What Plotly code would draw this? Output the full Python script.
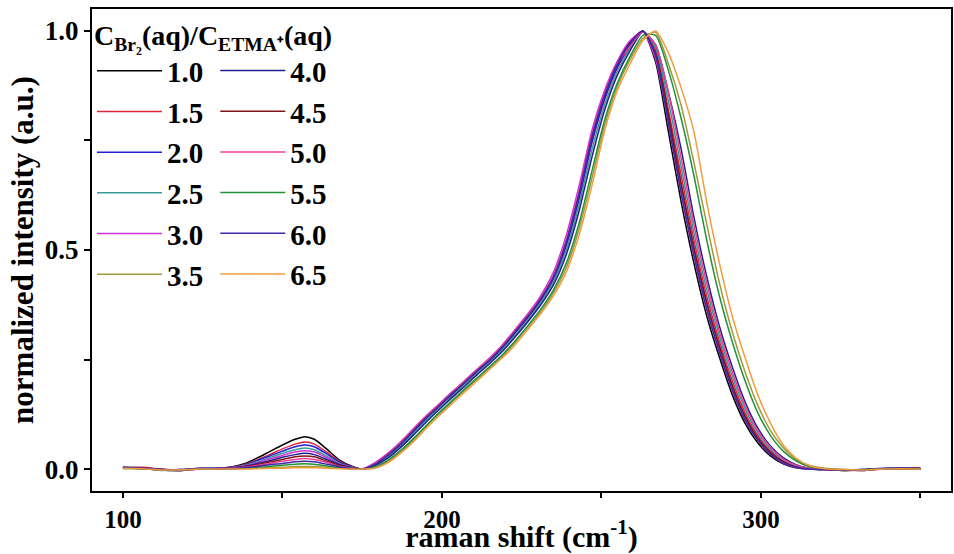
import plotly.graph_objects as go

# shared Raman-shift grid (cm^-1)
x_low = [100, 106, 112, 118, 124, 130, 134, 138, 142, 146, 150, 154, 157, 160, 164, 168, 172, 175]
x_main = [179, 183, 187, 191, 195, 199, 203, 207, 211, 215, 219, 223, 227, 231, 235, 239, 243, 247,
          251, 255, 259, 263, 267, 271, 275, 279, 283, 287, 291, 295, 299, 303, 307, 311, 315]
x_tail = [320, 326, 332, 338, 344, 350]
raman_shift = x_low + x_main + x_tail

labels = ["1.0", "1.5", "2.0", "2.5", "3.0", "3.5", "4.0", "4.5", "5.0", "5.5", "6.0", "6.5"]
colors = ["#000000", "#e3233a", "#2020d8", "#3a9a9a", "#d430d4", "#9b9b3c",
          "#202090", "#801515", "#e8409a", "#22903a", "#3b2ba5", "#f39c3c"]

i_10 = [0.004, 0.003, -0.002, -0.003, 0.001,
        0.002, 0.005, 0.012, 0.025, 0.040, 0.055, 0.068, 0.074, 0.068, 0.045, 0.020, 0.006, 0.000,
        0.012, 0.033, 0.058, 0.088, 0.118, 0.145, 0.172, 0.198, 0.225, 0.25, 0.28, 0.315, 0.35, 0.39, 0.44, 0.52, 0.63, 0.76,
        0.855, 0.925, 0.975, 0.999, 0.929, 0.77, 0.61, 0.47, 0.35, 0.255, 0.17, 0.105, 0.06, 0.03, 0.012, 0.003, 0.0,
        -0.001, -0.003, -0.002, 0.001, 0.002, 0.001]
i_15 = [0.002, 0.004, 0.000, -0.002, 0.000,
        0.002, 0.004, 0.010, 0.021, 0.033, 0.046, 0.057, 0.062, 0.057, 0.038, 0.017, 0.005, 0.0,
        0.010, 0.030, 0.055, 0.084, 0.114, 0.142, 0.169, 0.195, 0.222, 0.247, 0.276, 0.311, 0.346, 0.385, 0.434, 0.51, 0.616, 0.744,
        0.843, 0.916, 0.965, 1.0, 0.957, 0.82, 0.67, 0.523, 0.395, 0.291, 0.202, 0.129, 0.077, 0.041, 0.019, 0.006, 0.001,
        0.0, -0.002, -0.003, 0.000, 0.001, 0.002]
i_20 = [0.003, 0.001, -0.001, -0.002, 0.002,
        0.002, 0.004, 0.009, 0.019, 0.030, 0.041, 0.051, 0.055, 0.051, 0.034, 0.015, 0.004, 0.0,
        0.011, 0.031, 0.056, 0.085, 0.115, 0.143, 0.170, 0.196, 0.223, 0.248, 0.277, 0.312, 0.347, 0.386, 0.435, 0.512, 0.618, 0.746,
        0.845, 0.917, 0.968, 1.0, 0.944, 0.80, 0.65, 0.505, 0.38, 0.279, 0.191, 0.121, 0.071, 0.038, 0.017, 0.005, 0.001,
        -0.001, -0.002, -0.001, 0.002, 0.000, 0.001]
i_25 = [0.002, 0.002, -0.003, -0.001, 0.001,
        0.001, 0.003, 0.008, 0.016, 0.026, 0.036, 0.044, 0.048, 0.044, 0.029, 0.013, 0.004, 0.0,
        0.009, 0.028, 0.052, 0.081, 0.111, 0.138, 0.165, 0.192, 0.218, 0.244, 0.273, 0.306, 0.341, 0.38, 0.428, 0.50, 0.603, 0.728,
        0.831, 0.908, 0.96, 1.0, 0.96, 0.84, 0.69, 0.54, 0.41, 0.303, 0.213, 0.138, 0.083, 0.045, 0.021, 0.008, 0.002,
        0.0, -0.001, -0.002, 0.001, 0.001, 0.000]
i_30 = [0.003, 0.003, -0.001, -0.003, 0.000,
        0.001, 0.003, 0.007, 0.014, 0.023, 0.031, 0.039, 0.042, 0.039, 0.026, 0.011, 0.003, 0.0,
        0.015, 0.036, 0.062, 0.092, 0.121, 0.148, 0.175, 0.201, 0.228, 0.254, 0.284, 0.319, 0.355, 0.396, 0.45, 0.534, 0.646, 0.772,
        0.864, 0.931, 0.978, 0.999, 0.935, 0.79, 0.63, 0.488, 0.365, 0.267, 0.181, 0.113, 0.066, 0.034, 0.014, 0.004, 0.0,
        -0.001, -0.002, -0.002, 0.000, 0.002, 0.001]
i_35 = [0.001, 0.002, -0.002, -0.002, 0.000,
        0.0, 0.0, 0.001, 0.002, 0.003, 0.004, 0.006, 0.006, 0.006, 0.004, 0.002, 0.0, 0.0,
        0.003, 0.017, 0.039, 0.066, 0.096, 0.125, 0.152, 0.179, 0.205, 0.231, 0.258, 0.289, 0.324, 0.36, 0.403, 0.46, 0.548, 0.663,
        0.784, 0.873, 0.935, 0.983, 0.997, 0.925, 0.83, 0.70, 0.56, 0.425, 0.314, 0.223, 0.146, 0.088, 0.049, 0.023, 0.009,
        0.002, -0.001, -0.002, 0.000, 0.001, 0.001]
i_40 = [0.004, 0.001, -0.002, -0.001, 0.001,
        0.001, 0.003, 0.006, 0.012, 0.019, 0.027, 0.033, 0.036, 0.033, 0.022, 0.010, 0.003, 0.0,
        0.008, 0.025, 0.049, 0.077, 0.107, 0.135, 0.162, 0.188, 0.215, 0.241, 0.269, 0.302, 0.337, 0.375, 0.421, 0.49, 0.589, 0.711,
        0.819, 0.899, 0.955, 0.998, 0.968, 0.86, 0.73, 0.575, 0.44, 0.326, 0.234, 0.154, 0.094, 0.053, 0.026, 0.01, 0.002,
        0.000, -0.002, -0.001, 0.001, 0.003, 0.001]
i_45 = [0.002, 0.003, -0.001, -0.002, 0.001,
        0.001, 0.002, 0.005, 0.010, 0.016, 0.022, 0.028, 0.030, 0.028, 0.018, 0.008, 0.002, 0.0,
        0.012, 0.032, 0.057, 0.087, 0.117, 0.144, 0.171, 0.197, 0.224, 0.249, 0.279, 0.314, 0.349, 0.389, 0.439, 0.519, 0.628, 0.757,
        0.853, 0.924, 0.972, 1.0, 0.95, 0.81, 0.65, 0.505, 0.38, 0.279, 0.191, 0.121, 0.071, 0.038, 0.017, 0.005, 0.001,
        -0.001, -0.003, -0.002, 0.001, 0.001, 0.002]
i_50 = [0.003, 0.002, -0.002, -0.002, 0.000,
        0.001, 0.002, 0.004, 0.008, 0.013, 0.018, 0.022, 0.024, 0.022, 0.015, 0.006, 0.002, 0.0,
        0.013, 0.034, 0.060, 0.090, 0.120, 0.147, 0.174, 0.200, 0.227, 0.252, 0.282, 0.317, 0.352, 0.392, 0.442, 0.522, 0.632, 0.762,
        0.857, 0.926, 0.965, 0.998, 0.968, 0.86, 0.71, 0.558, 0.425, 0.314, 0.223, 0.146, 0.088, 0.049, 0.023, 0.009, 0.002,
        0.000, -0.002, -0.002, 0.000, 0.002, 0.001]
i_55 = [0.002, 0.001, -0.002, -0.003, 0.001,
        0.0, 0.001, 0.002, 0.004, 0.006, 0.009, 0.011, 0.012, 0.011, 0.007, 0.003, 0.001, 0.0,
        0.005, 0.020, 0.042, 0.069, 0.099, 0.128, 0.155, 0.182, 0.208, 0.234, 0.261, 0.293, 0.328, 0.365, 0.409, 0.47, 0.561, 0.679,
        0.796, 0.881, 0.942, 0.99, 0.99, 0.91, 0.80, 0.67, 0.523, 0.395, 0.291, 0.202, 0.129, 0.077, 0.041, 0.019, 0.006,
        0.001, -0.002, -0.001, 0.001, 0.001, 0.000]
i_60 = [0.003, 0.002, -0.001, -0.003, 0.002,
        0.001, 0.001, 0.003, 0.006, 0.010, 0.013, 0.017, 0.018, 0.017, 0.011, 0.005, 0.001, 0.0,
        0.011, 0.032, 0.057, 0.087, 0.117, 0.144, 0.171, 0.197, 0.224, 0.249, 0.279, 0.314, 0.349, 0.389, 0.439, 0.519, 0.628, 0.757,
        0.853, 0.924, 0.972, 1.0, 0.944, 0.79, 0.63, 0.488, 0.365, 0.267, 0.181, 0.113, 0.066, 0.034, 0.014, 0.004, 0.0,
        -0.001, -0.002, -0.003, 0.001, 0.002, 0.002]
i_65 = [0.002, 0.001, -0.002, -0.002, 0.000,
        0.0, 0.0, 0.0, 0.001, 0.002, 0.002, 0.003, 0.003, 0.003, 0.002, 0.001, 0.0, 0.0,
        0.002, 0.014, 0.036, 0.062, 0.092, 0.121, 0.148, 0.175, 0.201, 0.228, 0.254, 0.284, 0.319, 0.355, 0.396, 0.45, 0.534, 0.646,
        0.772, 0.864, 0.925, 0.978, 1.0, 0.95, 0.87, 0.77, 0.61, 0.47, 0.35, 0.255, 0.17, 0.105, 0.055, 0.025, 0.008,
        0.001, -0.001, -0.002, 0.000, 0.001, 0.000]

series = [i_10, i_15, i_20, i_25, i_30, i_35, i_40, i_45, i_50, i_55, i_60, i_65]

FONT = "Liberation Serif"

fig = go.Figure()
for k, (lab, ys, col) in enumerate(zip(labels, series, colors)):
    fig.add_trace(go.Scatter(
        x=raman_shift, y=ys, mode="lines", name=lab,
        line=dict(color=col, width=1.5, shape="spline", smoothing=0.6),
        legend="legend" if k < 6 else "legend2",
        legendgroup=lab,
    ))

leg_font = dict(family=FONT, size=29, color="black", weight="bold")

fig.update_layout(
    width=954, height=554,
    margin=dict(l=92, r=3, t=9, b=63),
    paper_bgcolor="white", plot_bgcolor="white",
    showlegend=True,
    legend=dict(
        x=0.0, y=1.0, xanchor="left", yanchor="top",
        bgcolor="rgba(0,0,0,0)", font=leg_font, itemwidth=65, tracegroupgap=0,
        title=dict(text="C<sub>Br₂</sub>(aq)/C<sub>ETMA⁺</sub>(aq)",
                   font=dict(family=FONT, size=28, color="black", weight="bold"), side="top"),
    ),
    legend2=dict(
        x=0.1435, y=0.925, xanchor="left", yanchor="top",
        bgcolor="rgba(0,0,0,0)", font=leg_font, itemwidth=65, tracegroupgap=0,
    ),
    xaxis=dict(
        range=[90.3, 359.6], tickvals=[100, 200, 300], ticks="outside", ticklen=5, tickwidth=2,
        tickcolor="black", showline=True, linewidth=2, linecolor="black", mirror=True,
        showgrid=False, zeroline=False,
        tickfont=dict(family=FONT, size=25, color="black", weight="bold"),
        minor=dict(tickvals=[150, 250, 350], ticks="outside", ticklen=5, tickwidth=2, tickcolor="black", showgrid=False),
        title=dict(text="raman shift (cm<sup>-1</sup>)", standoff=0,
                   font=dict(family=FONT, size=30, color="black", weight="bold")),
        automargin=False,
    ),
    yaxis=dict(
        range=[-0.05, 1.05], tickvals=[0, 0.5, 1.0], tickformat=".1f", ticks="outside", ticklen=6, tickwidth=2,
        tickcolor="black", showline=True, linewidth=2, linecolor="black", mirror=True,
        showgrid=False, zeroline=False,
        tickfont=dict(family=FONT, size=27, color="black", weight="bold"),
        minor=dict(tickvals=[0.25, 0.75], ticks="outside", ticklen=6, tickwidth=2, tickcolor="black", showgrid=False),
        title=dict(text="normalized intensity (a.u.)", standoff=2,
                   font=dict(family=FONT, size=31, color="black", weight="bold")),
        automargin=False,
    ),
)

fig.write_html("out.html")
